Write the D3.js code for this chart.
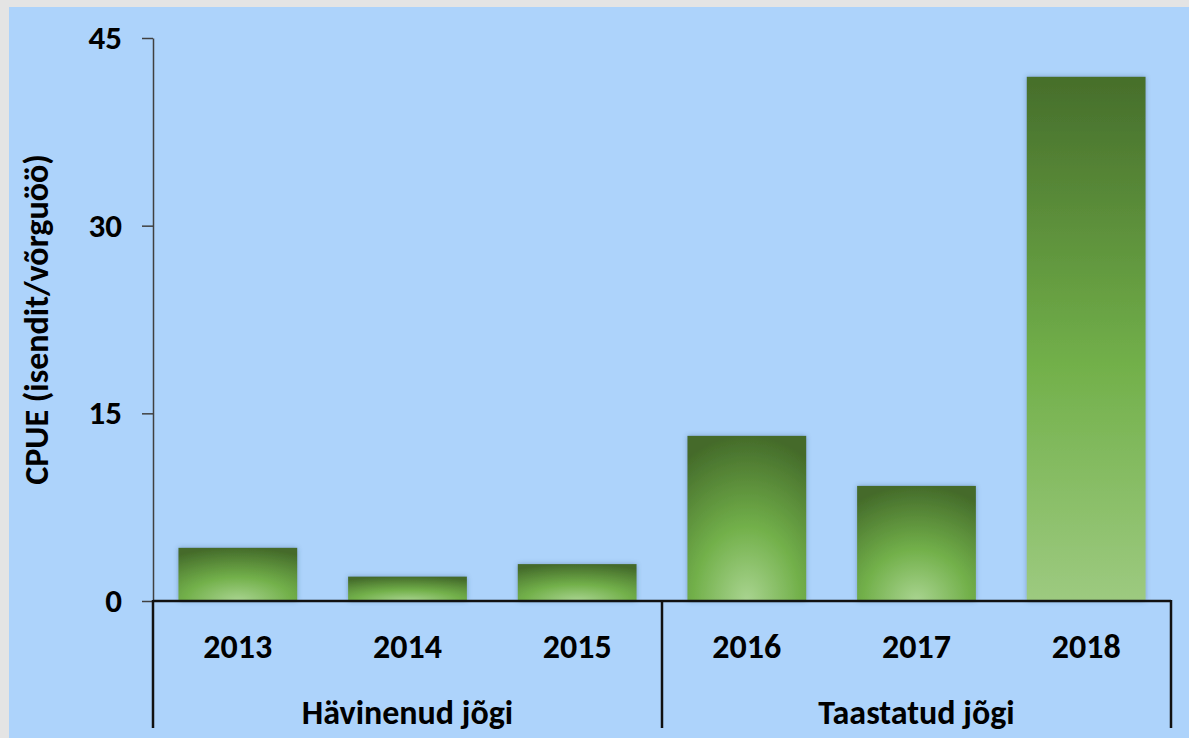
<!DOCTYPE html>
<meta charset="utf-8">
<style>
body { margin: 0; background: #e4e4e4; }
svg { display: block; font-family: Carlito, Calibri, Lato, "Open Sans", sans-serif; font-weight: bold; }
.axis--y path { stroke: #404040; stroke-width: 1.5; }
.axis--y line { stroke: #404040; stroke-width: 1.5; }
.axis--y text { font-size: 33px; fill: #000; font-weight: bold; font-family: Carlito, Calibri, Lato, sans-serif; }
.sep { stroke: #111; stroke-width: 2.5; }
</style>
<body>
<svg width="1189" height="738"></svg>
<script src="https://d3js.org/d3.v7.min.js"></script>
<script>

// data
var years = ["2013", "2014", "2015", "2016", "2017", "2018"];
var cpue = [4.25, 1.95, 2.95, 13.2, 9.2, 41.9];
var riverGroup = ["Hävinenud jõgi", "Hävinenud jõgi", "Hävinenud jõgi",
                  "Taastatud jõgi", "Taastatud jõgi", "Taastatud jõgi"];
var yTicks = [0, 15, 30, 45];
var yTitle = "CPUE (isendit/võrguöö)";

var svg = d3.select("svg"),
    margin = {top: 38, right: 18, bottom: 137, left: 153},
    width = +svg.attr("width") - margin.left - margin.right,
    height = +svg.attr("height") - margin.top - margin.bottom;

// blue plot background, light grey frame at left/top
svg.append("rect")
    .attr("x", 9).attr("y", 7)
    .attr("width", 1189 - 9).attr("height", 738 - 7)
    .attr("fill", "#add3fb");

var defs = svg.append("defs");

var rg = defs.append("radialGradient")
    .attr("id", "barRadial")
    .attr("cx", 0.5).attr("cy", 1).attr("r", 1)
    .attr("fx", 0.5).attr("fy", 1);
rg.append("stop").attr("offset", "0%").attr("stop-color", "#a9d490");
rg.append("stop").attr("offset", "45%").attr("stop-color", "#72b04a");
rg.append("stop").attr("offset", "100%").attr("stop-color", "#446b2a");

var lg = defs.append("linearGradient")
    .attr("id", "barLinear")
    .attr("x1", 0).attr("y1", 1).attr("x2", 0).attr("y2", 0);
lg.append("stop").attr("offset", "0%").attr("stop-color", "#9dca80");
lg.append("stop").attr("offset", "45%").attr("stop-color", "#72b04a");
lg.append("stop").attr("offset", "100%").attr("stop-color", "#466e2b");

var shadow = defs.append("filter")
    .attr("id", "shadow")
    .attr("x", "-20%").attr("y", "-20%").attr("width", "140%").attr("height", "140%");
shadow.append("feDropShadow")
    .attr("dx", 0).attr("dy", 0).attr("stdDeviation", 2.5)
    .attr("flood-color", "#3a5a80").attr("flood-opacity", 0.45);

var x = d3.scaleBand()
    .domain(years)
    .range([0, width])
    .paddingInner(0.3)
    .paddingOuter(0.15);

var y = d3.scaleLinear()
    .domain([0, 45])
    .range([height, 0]);

var g = svg.append("g")
    .attr("transform", "translate(" + margin.left + "," + margin.top + ")");

var data = years.map(function(yr, i) {
  return {year: yr, value: cpue[i], group: riverGroup[i]};
});

g.selectAll(".bar")
  .data(data)
  .enter().append("rect")
    .attr("class", "bar")
    .attr("x", function(d) { return x(d.year); })
    .attr("y", function(d) { return y(d.value); })
    .attr("width", x.bandwidth())
    .attr("height", function(d) { return height - y(d.value); })
    .attr("filter", "url(#shadow)")
    .attr("fill", function(d) {
      // very tall bars get the vertical gradient
      return (height - y(d.value)) > 3 * x.bandwidth() ? "url(#barLinear)" : "url(#barRadial)";
    });

// y axis
var yAxis = g.append("g")
    .attr("class", "axis axis--y")
    .call(d3.axisLeft(y).tickValues(yTicks).tickSize(11).tickSizeOuter(0).tickPadding(20));

// x axis baseline
g.append("line")
    .attr("class", "sep")
    .attr("x1", 0).attr("x2", width)
    .attr("y1", height).attr("y2", height);

// year labels
g.selectAll(".year")
  .data(data)
  .enter().append("text")
    .attr("class", "year")
    .attr("x", function(d) { return x(d.year) + x.bandwidth() / 2; })
    .attr("y", height + 57)
    .attr("text-anchor", "middle")
    .style("font-size", "34px")
    .text(function(d) { return d.year; });

// group brackets
var groups = d3.groups(data, function(d) { return d.group; }).map(function(gr) {
  var first = gr[1][0].year, last = gr[1][gr[1].length - 1].year;
  var step = x.step();
  return {
    name: gr[0],
    x0: x(first) - x.paddingInner() * step / 2,
    x1: x(last) + x.bandwidth() + x.paddingInner() * step / 2
  };
});
groups[0].x0 = 0;
groups[groups.length - 1].x1 = width;

var edges = [0].concat(groups.map(function(d) { return d.x1; }));
g.selectAll(".edge")
  .data(edges)
  .enter().append("line")
    .attr("class", "sep")
    .attr("x1", function(d) { return d; }).attr("x2", function(d) { return d; })
    .attr("y1", height - 1).attr("y2", height + 127);

g.selectAll(".grp")
  .data(groups)
  .enter().append("text")
    .attr("class", "grp")
    .attr("x", function(d) { return (d.x0 + d.x1) / 2; })
    .attr("y", height + 123)
    .attr("text-anchor", "middle")
    .style("font-size", "34px")
    .text(function(d) { return d.name; });

// y title
svg.append("text")
    .attr("transform", "translate(48," + (margin.top + height / 2) + ") rotate(-90)")
    .attr("text-anchor", "middle")
    .style("font-size", "34px")
    .text(yTitle);

</script>
</body>
